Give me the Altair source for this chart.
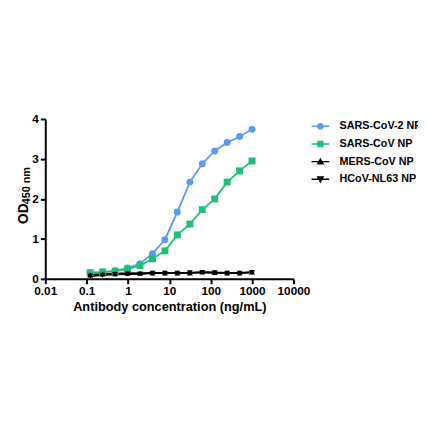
import altair as alt
import pandas as pd

conc = [0.122, 0.244, 0.488, 0.977, 1.95, 3.91, 7.81, 15.6, 31.3, 62.5, 125, 250, 500, 1000]
sars2 = [0.15, 0.17, 0.20, 0.27, 0.38, 0.63, 0.98, 1.67, 2.42, 2.88, 3.20, 3.41, 3.56, 3.74]
sars = [0.15, 0.17, 0.19, 0.24, 0.33, 0.50, 0.70, 1.10, 1.37, 1.73, 2.00, 2.42, 2.70, 2.95]
mers = [0.10, 0.12, 0.13, 0.14, 0.14, 0.15, 0.15, 0.15, 0.15, 0.17, 0.16, 0.15, 0.15, 0.17]
hcov = [0.07, 0.09, 0.11, 0.12, 0.12, 0.14, 0.14, 0.14, 0.15, 0.16, 0.15, 0.14, 0.14, 0.16]

names = ["SARS-CoV-2 NP", "SARS-CoV NP", "MERS-CoV NP", "HCoV-NL63 NP"]
colors = ["#5A9BF0", "#1FBF76", "#000000", "#000000"]
shapes = ["circle", "square", "triangle-up", "triangle-down"]
sizes = [50, 50, 36, 36]
x_ticks = [0.01, 0.1, 1, 10, 100, 1000, 10000]
y_ticks = [0, 1, 2, 3, 4]
x_title = "Antibody concentration (ng/mL)"
y_title_main = "OD"
y_title_sub = "450 nm"

rows = []
for n, vals in zip(names, [sars2, sars, mers, hcov]):
    for c, v in zip(conc, vals):
        rows.append({"series": n, "conc": c, "od": v})
df = pd.DataFrame(rows)

# legend symbols: line through marker (all sub-paths clockwise)
line = "M-1.8,-0.15H1.8V0.15H-1.8Z"
leg_paths = [
    line + "M0.7,0A0.7,0.7 0 1,1 -0.7,0A0.7,0.7 0 1,1 0.7,0Z",
    line + "M-0.65,-0.65H0.65V0.65H-0.65Z",
    line + "M0,-0.8L0.8,0.6L-0.8,0.6Z",
    line + "M0,0.8L-0.8,-0.6L0.8,-0.6Z",
]

color_scale = alt.Scale(domain=names, range=colors)
legend = alt.Legend(title=None, orient="none", legendX=275, legendY=2,
                    symbolSize=100, symbolStrokeWidth=0,
                    labelFont="Liberation Sans", labelFontWeight="bold",
                    labelFontSize=11, labelColor="black",
                    labelOffset=14, rowPadding=6, labelLimit=300)

x_enc = alt.X("conc:Q", scale=alt.Scale(type="log", domain=[0.01, 10000]),
              axis=alt.Axis(values=x_ticks, format="~g", title=x_title,
                            grid=False, titlePadding=4, labelPadding=2,
                            labelFlush=False, labelOverlap=False))
y_enc = alt.Y("od:Q", scale=alt.Scale(domain=[0, 4]),
              axis=alt.Axis(values=y_ticks, title=None, grid=False, labelPadding=2))

base = alt.Chart(df)

lines = base.mark_line(strokeWidth=1.8).encode(
    x=x_enc, y=y_enc,
    color=alt.Color("series:N", scale=color_scale, legend=legend),
    detail="series:N",
)

point_layers = []
for n, s, sz in zip(names, shapes, sizes):
    point_layers.append(
        base.transform_filter(alt.datum.series == n).mark_point(
            shape=s, filled=True, size=sz, opacity=1
        ).encode(
            x=x_enc, y=y_enc,
            color=alt.Color("series:N", scale=color_scale, legend=legend),
        )
    )

legend_layer = base.transform_filter("false").mark_point(filled=True, opacity=1).encode(
    color=alt.Color("series:N", scale=color_scale, legend=legend),
    shape=alt.Shape("series:N", scale=alt.Scale(domain=names, range=leg_paths), legend=legend),
)

title_main = alt.Chart(pd.DataFrame({"t": [y_title_main]})).mark_text(
    angle=270, align="left", baseline="alphabetic", font="Liberation Sans",
    fontWeight="bold", fontSize=14, color="black"
).encode(text="t:N", x=alt.value(-18), y=alt.value(107))

title_sub = alt.Chart(pd.DataFrame({"t": [y_title_sub]})).mark_text(
    angle=270, align="left", baseline="alphabetic", font="Liberation Sans",
    fontWeight="bold", fontSize=11, color="black"
).encode(text="t:N", x=alt.value(-16), y=alt.value(87))

chart = alt.layer(lines, *point_layers, legend_layer, title_main, title_sub).properties(
    width=253, height=163,
    autosize="none",
    padding={"left": 38, "top": 109, "right": 127, "bottom": 150},
).configure_view(stroke=None).configure_axis(
    domainWidth=2, domainColor="black", tickWidth=2, tickColor="black", tickSize=5,
    labelFont="Liberation Sans", labelFontWeight="bold", labelFontSize=12, labelColor="black",
    titleFont="Liberation Sans", titleFontWeight="bold", titleFontSize=13, titleColor="black",
)

chart.save("out.html", embed_options={"renderer": "svg", "actions": False})
